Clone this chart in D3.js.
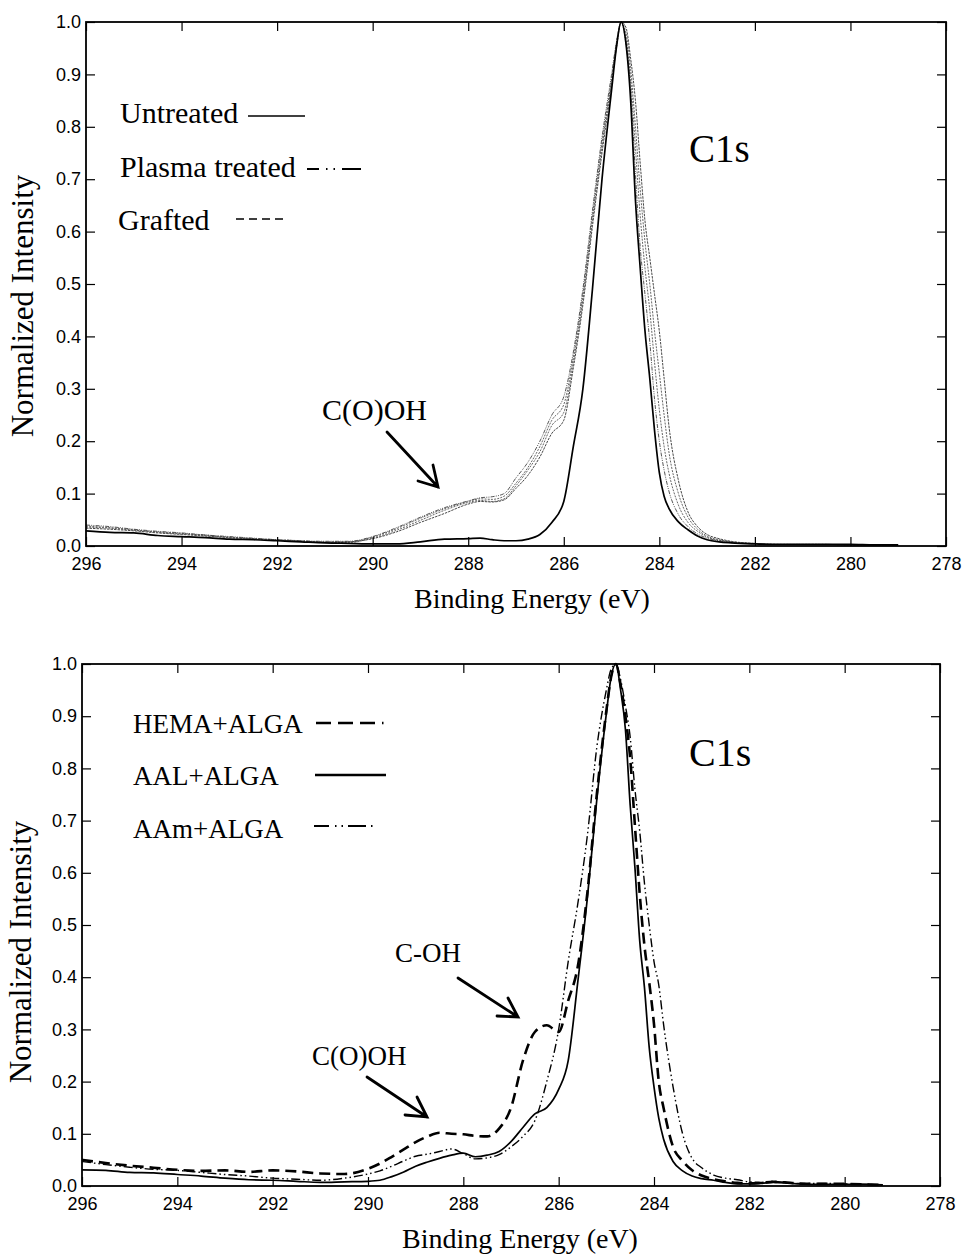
<!DOCTYPE html>
<html>
<head>
<meta charset="utf-8">
<script src="https://cdn.jsdelivr.net/npm/d3@7"></script>
<style>
  body { margin: 0; background: #fff; }
  svg { display: block; }
</style>
</head>
<body>
<script>
// ---- data: top panel (C1s, untreated / plasma / grafted) ----
var energyTop = [296, 295.5, 295, 294.5, 294, 293.5, 293, 292.5, 292, 291.5, 291, 290.5, 290, 289.5, 289, 288.5, 288, 287.75, 287.5, 287.25, 287, 286.75, 286.5, 286.25, 286, 285.8, 285.6, 285.4, 285.2, 285.0, 284.9, 284.8, 284.7, 284.6, 284.5, 284.4, 284.3, 284.2, 284.1, 284.0, 283.9, 283.8, 283.6, 283.4, 283.2, 283.0, 282.75, 282.5, 282, 281.5, 281, 280.5, 280, 279.5, 279];
var untreated = [0.029, 0.026, 0.025, 0.020, 0.018, 0.016, 0.013, 0.012, 0.010, 0.008, 0.006, 0.005, 0.004, 0.004, 0.008, 0.013, 0.014, 0.015, 0.012, 0.010, 0.010, 0.013, 0.022, 0.045, 0.085, 0.19, 0.30, 0.49, 0.70, 0.87, 0.95, 1.0, 0.96, 0.85, 0.66, 0.53, 0.41, 0.32, 0.22, 0.14, 0.095, 0.072, 0.046, 0.031, 0.019, 0.012, 0.008, 0.006, 0.004, 0.003, 0.003, 0.003, 0.003, 0.002, 0.002];
var plasmaTreated = [0.040, 0.037, 0.032, 0.028, 0.025, 0.021, 0.018, 0.015, 0.012, 0.010, 0.009, 0.009, 0.018, 0.035, 0.055, 0.073, 0.086, 0.092, 0.094, 0.100, 0.130, 0.160, 0.200, 0.250, 0.285, 0.37, 0.49, 0.64, 0.78, 0.90, 0.96, 1.0, 0.96, 0.87, 0.71, 0.57, 0.48, 0.39, 0.28, 0.20, 0.145, 0.105, 0.060, 0.037, 0.023, 0.015, 0.010, 0.007, 0.004, 0.003, 0.003, 0.003, 0.002, 0.002, 0.001];
var grafted1 = [0.036, 0.034, 0.030, 0.027, 0.024, 0.020, 0.017, 0.014, 0.011, 0.009, 0.008, 0.008, 0.017, 0.033, 0.053, 0.071, 0.085, 0.090, 0.089, 0.095, 0.120, 0.150, 0.190, 0.240, 0.270, 0.36, 0.48, 0.63, 0.77, 0.89, 0.96, 1.0, 0.97, 0.89, 0.76, 0.63, 0.53, 0.45, 0.35, 0.26, 0.19, 0.14, 0.078, 0.045, 0.028, 0.017, 0.011, 0.008, 0.004, 0.003, 0.003, 0.003, 0.002, 0.002, 0.001];
var grafted2 = [0.038, 0.035, 0.031, 0.026, 0.023, 0.021, 0.016, 0.014, 0.012, 0.010, 0.007, 0.007, 0.015, 0.030, 0.049, 0.068, 0.083, 0.087, 0.085, 0.090, 0.115, 0.145, 0.180, 0.230, 0.255, 0.35, 0.47, 0.62, 0.76, 0.89, 0.95, 1.0, 0.98, 0.91, 0.80, 0.68, 0.58, 0.50, 0.41, 0.33, 0.25, 0.18, 0.10, 0.055, 0.032, 0.019, 0.012, 0.008, 0.005, 0.003, 0.003, 0.003, 0.002, 0.002, 0.001];
var grafted3 = [0.034, 0.032, 0.029, 0.025, 0.022, 0.019, 0.016, 0.013, 0.011, 0.009, 0.007, 0.008, 0.014, 0.027, 0.045, 0.062, 0.080, 0.085, 0.084, 0.088, 0.110, 0.135, 0.170, 0.215, 0.240, 0.34, 0.46, 0.61, 0.75, 0.88, 0.95, 1.0, 0.99, 0.93, 0.85, 0.73, 0.62, 0.55, 0.48, 0.41, 0.32, 0.23, 0.125, 0.065, 0.037, 0.022, 0.014, 0.009, 0.005, 0.003, 0.003, 0.003, 0.002, 0.002, 0.001];

// ---- data: bottom panel (C1s, grafted with ALGA) ----
var energyBottom = [296, 295.5, 295, 294.5, 294, 293.5, 293, 292.5, 292, 291.5, 291, 290.5, 290, 289.75, 289.5, 289.25, 289, 288.75, 288.5, 288.25, 288, 287.75, 287.5, 287.25, 287, 286.75, 286.5, 286.25, 286, 285.8, 285.6, 285.4, 285.2, 285.0, 284.9, 284.8, 284.7, 284.6, 284.5, 284.4, 284.3, 284.2, 284.1, 284.0, 283.9, 283.8, 283.6, 283.4, 283.2, 283.0, 282.75, 282.5, 282.25, 282, 281.75, 281.5, 281.25, 281, 280.5, 280, 279.5, 279.2];
var hemaAlga = [0.050, 0.044, 0.039, 0.035, 0.031, 0.029, 0.030, 0.027, 0.030, 0.028, 0.024, 0.023, 0.033, 0.043, 0.056, 0.070, 0.084, 0.095, 0.102, 0.100, 0.099, 0.096, 0.095, 0.110, 0.150, 0.240, 0.295, 0.308, 0.295, 0.355, 0.42, 0.56, 0.75, 0.91, 0.975, 1.0, 0.96, 0.90, 0.82, 0.69, 0.56, 0.46, 0.39, 0.31, 0.20, 0.15, 0.075, 0.048, 0.030, 0.020, 0.013, 0.009, 0.006, 0.005, 0.006, 0.008, 0.007, 0.005, 0.004, 0.004, 0.003, 0.002];
var aalAlga = [0.031, 0.030, 0.026, 0.025, 0.022, 0.019, 0.015, 0.012, 0.011, 0.009, 0.007, 0.008, 0.009, 0.011, 0.018, 0.027, 0.038, 0.046, 0.053, 0.059, 0.063, 0.056, 0.059, 0.066, 0.085, 0.112, 0.138, 0.150, 0.185, 0.24, 0.39, 0.55, 0.74, 0.905, 0.975, 1.0, 0.95, 0.875, 0.73, 0.61, 0.47, 0.38, 0.265, 0.19, 0.13, 0.09, 0.047, 0.029, 0.019, 0.014, 0.011, 0.007, 0.004, 0.004, 0.005, 0.007, 0.006, 0.004, 0.003, 0.003, 0.003, 0.002];
var aamAlga = [0.047, 0.041, 0.036, 0.032, 0.030, 0.026, 0.022, 0.019, 0.015, 0.013, 0.011, 0.015, 0.023, 0.029, 0.038, 0.048, 0.057, 0.061, 0.066, 0.071, 0.062, 0.052, 0.054, 0.060, 0.075, 0.095, 0.125, 0.20, 0.30, 0.43, 0.54, 0.67, 0.84, 0.95, 0.99, 1.0, 0.97, 0.92, 0.86, 0.76, 0.68, 0.58, 0.50, 0.43, 0.385, 0.31, 0.19, 0.10, 0.053, 0.035, 0.021, 0.015, 0.012, 0.008, 0.007, 0.009, 0.007, 0.005, 0.005, 0.004, 0.003, 0.002];

// ---- ticks and labels ----
var xTicks = [296, 294, 292, 290, 288, 286, 284, 282, 280, 278];
var yTicks = [0, 0.1, 0.2, 0.3, 0.4, 0.5, 0.6, 0.7, 0.8, 0.9, 1.0];
var topLegend = ["Untreated", "Plasma treated", "Grafted"];
var bottomLegend = ["HEMA+ALGA", "AAL+ALGA", "AAm+ALGA"];

var serif = "'Liberation Serif', 'Times New Roman', serif";
var sans = "'Liberation Sans', Arial, sans-serif";

var svg = d3.select("body").append("svg")
  .attr("width", 962)
  .attr("height", 1254);

function drawPanel(p) {
  var x = d3.scaleLinear().domain([296, 278]).range([p.left, p.left + p.width]);
  var y = d3.scaleLinear().domain([0, 1]).range([p.top + p.height, p.top]);
  var g = svg.append("g");

  // curves
  var line = d3.line()
    .x(function(d) { return x(d[0]); })
    .y(function(d) { return y(d[1]); })
    .curve(d3.curveMonotoneX);

  p.series.forEach(function(s) {
    var pts = p.energy.map(function(e, i) { return [e, s.values[i]]; });
    g.append("path")
      .attr("d", line(pts))
      .attr("fill", "none")
      .attr("stroke", s.color)
      .attr("stroke-width", s.width)
      .attr("stroke-dasharray", s.dash || null)
      .attr("stroke-linejoin", "round");
  });

  // axes, ticks pointing inward
  var bottomAxis = g.append("g")
    .attr("transform", "translate(0," + (p.top + p.height) + ")")
    .call(d3.axisBottom(x).tickValues(xTicks).tickSizeInner(-9).tickSizeOuter(0)
      .tickPadding(11).tickFormat(d3.format("d")));
  var topAxis = g.append("g")
    .attr("transform", "translate(0," + p.top + ")")
    .call(d3.axisTop(x).tickValues(xTicks).tickSizeInner(-9).tickSizeOuter(0).tickFormat(""));
  var leftAxis = g.append("g")
    .attr("transform", "translate(" + p.left + ",0)")
    .call(d3.axisLeft(y).tickValues(yTicks).tickSizeInner(-9).tickSizeOuter(0)
      .tickPadding(5).tickFormat(d3.format(".1f")));
  var rightAxis = g.append("g")
    .attr("transform", "translate(" + (p.left + p.width) + ",0)")
    .call(d3.axisRight(y).tickValues(yTicks).tickSizeInner(-9).tickSizeOuter(0).tickFormat(""));

  [bottomAxis, topAxis, leftAxis, rightAxis].forEach(function(a) {
    a.select(".domain").remove();
    a.selectAll(".tick line").attr("stroke", "#000").attr("stroke-width", 1.2);
    a.selectAll("text").attr("font-family", sans).attr("font-size", 18).attr("fill", "#000");
  });

  g.append("rect")
    .attr("x", p.left).attr("y", p.top)
    .attr("width", p.width).attr("height", p.height)
    .attr("fill", "none").attr("stroke", "#000").attr("stroke-width", 1.8);

  // axis titles
  g.append("text")
    .attr("x", p.xLabelX).attr("y", p.xLabelY)
    .attr("text-anchor", "middle")
    .attr("font-family", serif).attr("font-size", 28)
    .text("Binding Energy (eV)");
  g.append("text")
    .attr("transform", "translate(" + p.yLabelX + "," + p.yLabelY + ") rotate(-90)")
    .attr("text-anchor", "middle")
    .attr("font-family", serif).attr("font-size", 31)
    .text("Normalized Intensity");

  // legend
  p.legend.forEach(function(l) {
    g.append("text")
      .attr("x", l.tx).attr("y", l.ty)
      .attr("font-family", serif).attr("font-size", p.legendSize)
      .text(l.label);
    g.append("line")
      .attr("x1", l.x1).attr("x2", l.x2).attr("y1", l.ly).attr("y2", l.ly)
      .attr("stroke", "#000").attr("stroke-width", l.width)
      .attr("stroke-dasharray", l.dash || null);
  });

  // annotations
  p.notes.forEach(function(n) {
    g.append("text")
      .attr("x", n.x).attr("y", n.y)
      .attr("font-family", serif).attr("font-size", n.size)
      .text(n.text);
  });
  p.arrows.forEach(function(a) {
    g.append("path")
      .attr("d", "M" + a[0] + "," + a[1] + "L" + a[2] + "," + a[3] +
        "M" + a[4] + "," + a[5] + "L" + a[2] + "," + a[3] + "L" + a[6] + "," + a[7])
      .attr("fill", "none").attr("stroke", "#000").attr("stroke-width", 2.8)
      .attr("stroke-linecap", "round").attr("stroke-linejoin", "miter");
  });
}

drawPanel({
  left: 86, top: 22, width: 860, height: 524,
  energy: energyTop,
  series: [
    { values: grafted3, color: "#333", width: 0.9, dash: "2.5,1" },
    { values: grafted2, color: "#555", width: 0.9, dash: "2,1.2" },
    { values: grafted1, color: "#555", width: 0.9, dash: "2,1.2" },
    { values: plasmaTreated, color: "#444", width: 0.9, dash: "4,1.2,1,1.2,1,1.2" },
    { values: untreated, color: "#000", width: 1.7 }
  ],
  xLabelX: 532, xLabelY: 608,
  yLabelX: 33, yLabelY: 306,
  legendSize: 30,
  legend: [
    { label: topLegend[0], tx: 120, ty: 123, x1: 248, x2: 305, ly: 116, width: 1.6 },
    { label: topLegend[1], tx: 120, ty: 177, x1: 307, x2: 361, ly: 169, width: 2.2, dash: "12,7,1.5,6,1.5,7,20" },
    { label: topLegend[2], tx: 118, ty: 230, x1: 236, x2: 284, ly: 219, width: 1.6, dash: "8,5" }
  ],
  notes: [
    { text: "C1s", x: 689, y: 162, size: 39 },
    { text: "C(O)OH", x: 322, y: 420, size: 30 }
  ],
  arrows: [
    [387, 432, 438, 487, 418, 481, 433, 465]
  ]
});

drawPanel({
  left: 82, top: 664, width: 858, height: 522,
  energy: energyBottom,
  series: [
    { values: aamAlga, color: "#000", width: 1.4, dash: "9,3,1.5,3,1.5,3" },
    { values: aalAlga, color: "#000", width: 1.7 },
    { values: hemaAlga, color: "#000", width: 2.6, dash: "11,6" }
  ],
  xLabelX: 520, xLabelY: 1248,
  yLabelX: 31, yLabelY: 952,
  legendSize: 27,
  legend: [
    { label: bottomLegend[0], tx: 133, ty: 733, x1: 316, x2: 387, ly: 723, width: 2.4, dash: "15,7,15,7,15,7,1.5" },
    { label: bottomLegend[1], tx: 133, ty: 785, x1: 315, x2: 386, ly: 775, width: 2.4 },
    { label: bottomLegend[2], tx: 133, ty: 838, x1: 314, x2: 377, ly: 826, width: 1.8, dash: "15,6,1.5,5,1.5,5,18,5,1.5" }
  ],
  notes: [
    { text: "C1s", x: 689, y: 766, size: 40 },
    { text: "C-OH", x: 395, y: 962, size: 27 },
    { text: "C(O)OH", x: 312, y: 1065, size: 27 }
  ],
  arrows: [
    [458, 978, 518, 1017, 497, 1016, 508, 998],
    [367, 1077, 427, 1117, 405, 1115, 417, 1097]
  ]
});
</script>
</body>
</html>
